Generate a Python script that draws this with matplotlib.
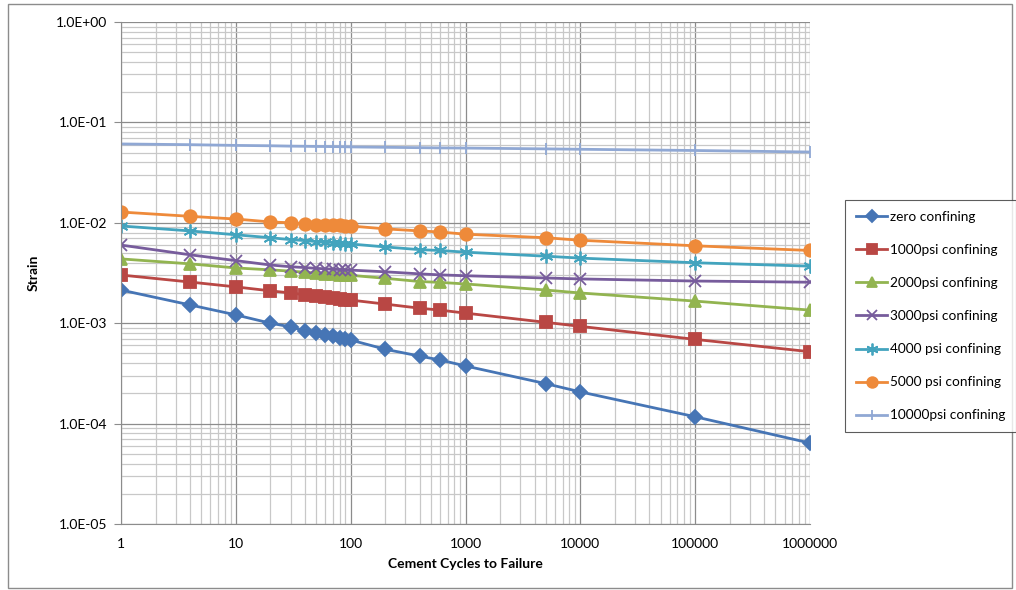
import numpy as np
import matplotlib
matplotlib.use("Agg")
import matplotlib.pyplot as plt
from matplotlib.patches import Rectangle
from matplotlib.ticker import FixedLocator, LogLocator, NullFormatter

# DATOS
ciclos = [1, 4, 10, 20, 30, 40, 50, 60, 70, 80, 90, 100, 200, 400, 600,
          1000, 5000, 10000, 100000, 1000000]

zero = [2.14e-3, 1.52e-3, 1.21e-3, 1.0e-3, 9.2e-4, 8.4e-4, 8.0e-4, 7.6e-4,
        7.4e-4, 7.2e-4, 7.0e-4, 6.8e-4, 5.5e-4, 4.7e-4, 4.3e-4, 3.75e-4,
        2.5e-4, 2.07e-4, 1.17e-4, 6.4e-5]
psi1000 = [3.02e-3, 2.57e-3, 2.3e-3, 2.1e-3, 2.0e-3, 1.92e-3, 1.88e-3,
           1.84e-3, 1.8e-3, 1.76e-3, 1.72e-3, 1.7e-3, 1.55e-3, 1.41e-3,
           1.35e-3, 1.26e-3, 1.02e-3, 9.3e-4, 6.9e-4, 5.2e-4]
psi2000 = [4.37e-3, 3.9e-3, 3.55e-3, 3.4e-3, 3.3e-3, 3.22e-3, 3.16e-3,
           3.1e-3, 3.06e-3, 3.03e-3, 3.01e-3, 3.0e-3, 2.8e-3, 2.6e-3,
           2.55e-3, 2.46e-3, 2.14e-3, 2.0e-3, 1.66e-3, 1.35e-3]
psi3000 = [6.0e-3, 4.8e-3, 4.2e-3, 3.8e-3, 3.65e-3, 3.58e-3, 3.52e-3,
           3.48e-3, 3.45e-3, 3.42e-3, 3.4e-3, 3.38e-3, 3.25e-3, 3.1e-3,
           3.03e-3, 2.97e-3, 2.82e-3, 2.76e-3, 2.63e-3, 2.56e-3]
psi4000 = [9.3e-3, 8.3e-3, 7.6e-3, 7.1e-3, 6.8e-3, 6.65e-3, 6.5e-3,
           6.45e-3, 6.35e-3, 6.3e-3, 6.2e-3, 6.15e-3, 5.75e-3, 5.4e-3,
           5.3e-3, 5.1e-3, 4.65e-3, 4.45e-3, 4.0e-3, 3.7e-3]
psi5000 = [1.28e-2, 1.16e-2, 1.09e-2, 1.02e-2, 1.0e-2, 9.8e-3, 9.6e-3,
           9.55e-3, 9.45e-3, 9.4e-3, 9.35e-3, 9.3e-3, 8.7e-3, 8.3e-3,
           8.1e-3, 7.7e-3, 7.1e-3, 6.7e-3, 5.9e-3, 5.3e-3]
psi10000 = [6.1e-2, 6.0e-2, 5.9e-2, 5.85e-2, 5.8e-2, 5.78e-2, 5.76e-2,
            5.75e-2, 5.74e-2, 5.73e-2, 5.72e-2, 5.7e-2, 5.65e-2, 5.6e-2,
            5.57e-2, 5.55e-2, 5.45e-2, 5.4e-2, 5.25e-2, 5.07e-2]

series = [
    ("zero confining", zero, "#4675B5", "D", 7),
    ("1000psi confining", psi1000, "#B94744", "s", 8),
    ("2000psi confining", psi2000, "#92B450", "^", 8),
    ("3000psi confining", psi3000, "#775C9C", "x", 8),
    ("4000 psi confining", psi4000, "#43A4BE", (6, 2, 0), 10),
    ("5000 psi confining", psi5000, "#EE8A3A", "o", 9),
    ("10000psi confining", psi10000, "#90A8D4", "|", 9),
]

plt.rcParams['font.family'] = ['Lato', 'DejaVu Sans']

fig = plt.figure(figsize=(10.16, 5.90), dpi=100)
ax = fig.add_axes([121/1016, 1 - 524/590, (810 - 121)/1016, (524 - 22)/590])

for nombre, vals, col, mk, ms in series:
    ax.plot(ciclos, vals, color=col, lw=2.0, marker=mk, markersize=ms,
            markeredgecolor=col, markerfacecolor=col, markeredgewidth=1.3,
            label=nombre)

ax.set_xscale('log')
ax.set_yscale('log')
ax.set_xlim(1, 1e6)
ax.set_ylim(1e-5, 1)

ax.xaxis.set_major_locator(FixedLocator([1, 10, 100, 1000, 1e4, 1e5, 1e6]))
ax.set_xticklabels(['1', '10', '100', '1000', '10000', '100000', '1000000'])
ax.xaxis.set_minor_locator(LogLocator(base=10, subs=np.arange(2, 10)))
ax.xaxis.set_minor_formatter(NullFormatter())

ax.yaxis.set_major_locator(FixedLocator([1e-5, 1e-4, 1e-3, 1e-2, 1e-1, 1]))
ax.set_yticklabels(['1.0E-05', '1.0E-04', '1.0E-03', '1.0E-02', '1.0E-01', '1.0E+00'])
ax.yaxis.set_minor_locator(LogLocator(base=10, subs=np.arange(2, 10)))
ax.yaxis.set_minor_formatter(NullFormatter())

ax.grid(True, which='major', color='#8C8C8C', lw=0.9)
ax.grid(True, which='minor', color='#C8C8C8', lw=0.9)
ax.set_axisbelow(True)

for s in ['top', 'right']:
    ax.spines[s].set_visible(False)
ax.spines['left'].set_color('#8C8C8C')
ax.spines['bottom'].set_color('#8C8C8C')
ax.tick_params(axis='both', which='major', labelsize=10, colors='#8C8C8C',
               labelcolor='black', length=5, pad=5)
ax.tick_params(axis='x', which='major', length=0, pad=10)
ax.tick_params(axis='both', which='minor', length=0)

ax.set_xlabel('Cement Cycles to Failure', fontsize=10, fontweight='bold', labelpad=6)
ax.set_ylabel('Strain', fontsize=10, fontweight='bold', labelpad=12)

leg = fig.legend(loc='upper left', bbox_to_anchor=(845/1016, 1 - 200/590),
                 borderaxespad=0, fontsize=9.8, frameon=True, fancybox=False,
                 edgecolor='#333333', labelspacing=1.55, handlelength=2.3,
                 handletextpad=0.2, borderpad=0.8, markerscale=0.85)
leg.get_frame().set_linewidth(0.8)

# borde del area del grafico
fig.patches.append(Rectangle((8/1016, 2/590), 1004/1016, 584/590,
                             transform=fig.transFigure, fill=False,
                             edgecolor='#8C8C8C', lw=1))

fig.savefig('out.png', dpi=100)
